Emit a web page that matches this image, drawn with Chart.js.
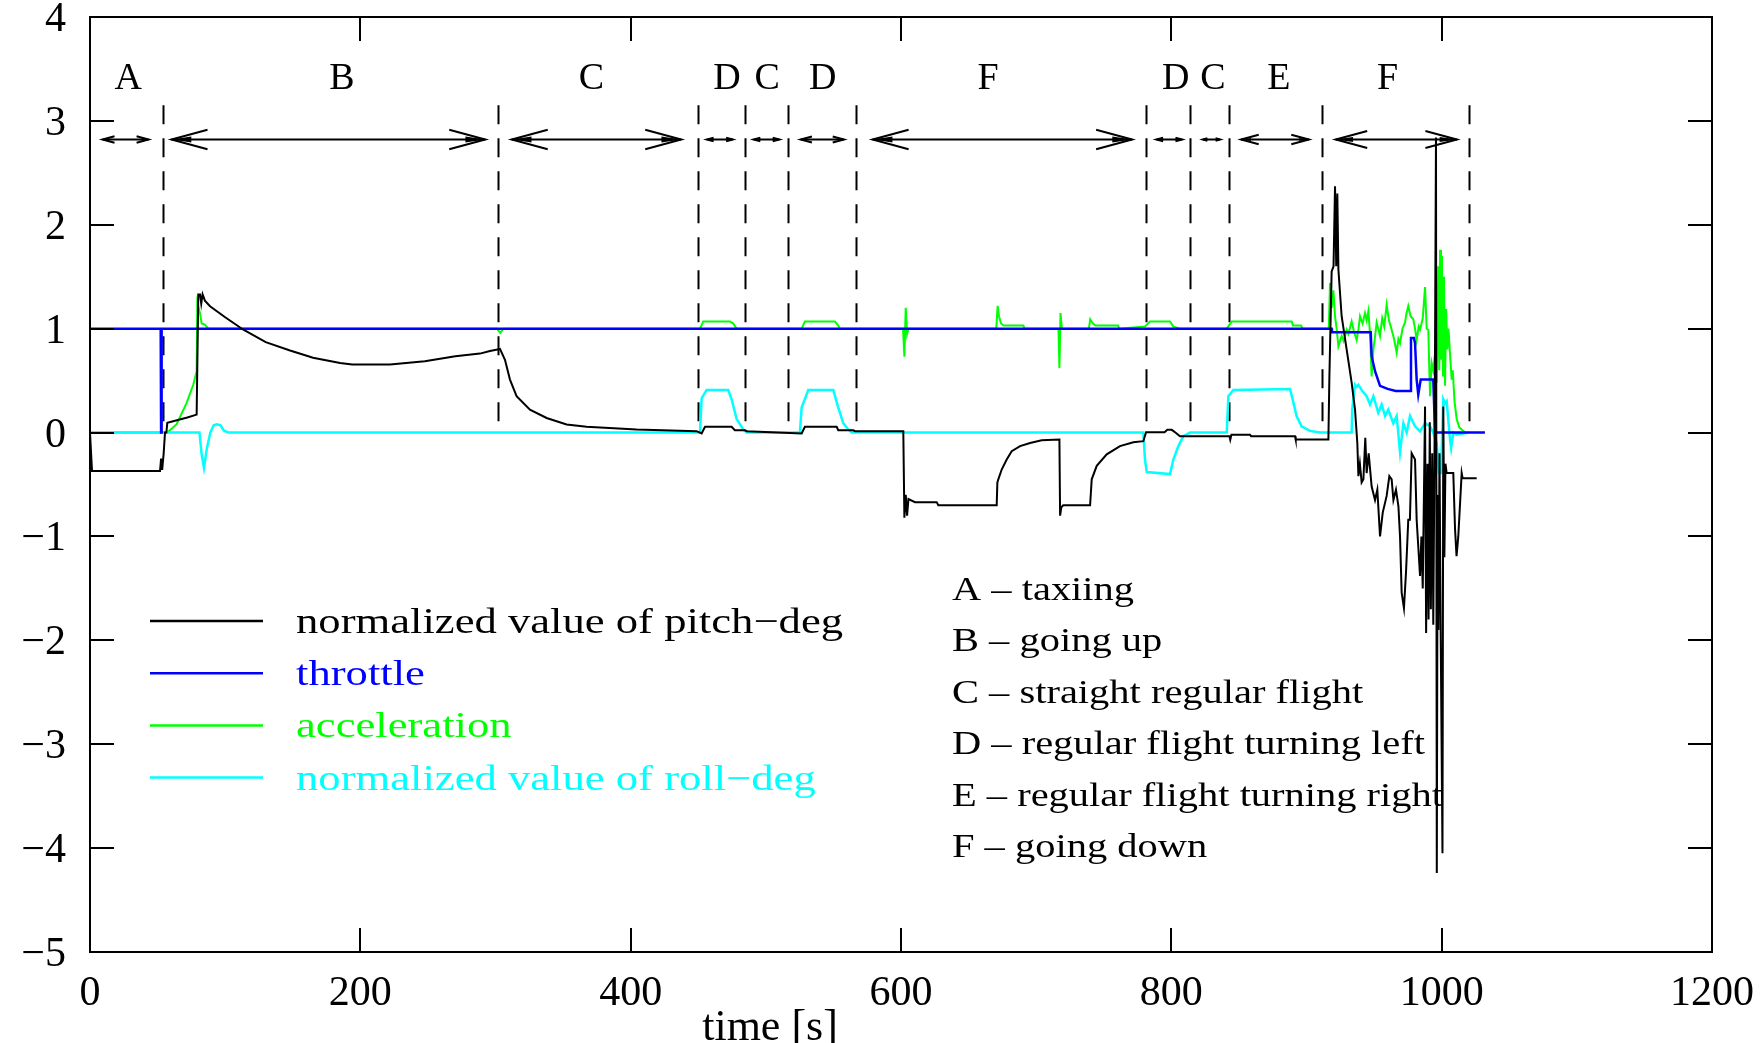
<!DOCTYPE html>
<html>
<head>
<meta charset="utf-8">
<script src="https://cdn.jsdelivr.net/npm/chart.js@4.4.1/dist/chart.umd.min.js"></script>
<style>
  html, body { margin: 0; padding: 0; background: #fff; }
  #wrap { width: 1760px; height: 1043px; }
</style>
</head>
<body>
<div id="wrap"><canvas id="chart" width="1760" height="1043"></canvas></div>
<script>
// ---- data (time in s, normalized values) ----
const pitchTime = [0, 1.5, 51.8, 52.6, 53.4, 54.5, 55.5, 56.5, 57.2, 65, 72, 78.9, 80.1, 81.4, 82.3, 83.3, 85, 88.8, 100, 113.5, 130, 148, 165, 185, 194, 222, 247.7, 270.3, 288.5, 295.9, 301.5, 303.3, 307, 310.7, 315.6, 325.5, 337.8, 352.6, 367.4, 404.4, 448.8, 452.5, 455, 474.7, 477.1, 484.5, 486, 526.5, 528.9, 552.4, 553.6, 564.7, 566, 601.7, 602.5, 603.5, 604.5, 605.5, 610.4, 626.4, 627.6, 670.8, 671.3, 672, 674.5, 678.2, 681.9, 688.1, 695.5, 704.1, 717.2, 717.7, 718.6, 720, 739.9, 741.1, 744.8, 752.2, 762, 771.9, 779.3, 781.3, 795, 797, 800.3, 803, 806.4, 843, 843.6, 844.5, 858.2, 859, 891.5, 892, 916.2, 916.9, 918.6, 920, 921.1, 922, 922.8, 923.6, 926, 929.7, 933.4, 935.9, 937.6, 938.4, 939.5, 940.8, 942.1, 943.5, 944.5, 946, 948.2, 950.7, 952.4, 954.4, 956.4, 959.3, 961.3, 963, 964.3, 966.2, 968, 969.2, 970.4, 972.1, 973.6, 975.3, 976.5, 977.8, 980.3, 981.5, 984, 985, 986, 987.7, 988.5, 989.5, 990.3, 991.2, 992, 993, 993.8, 994.8, 995.8, 996.4, 997, 997.6, 998.4, 999.2, 1000.6, 1001.2, 1002, 1002.8, 1003.7, 1008.6, 1009.9, 1011, 1012.3, 1014.8, 1015.5, 1025.9];
const pitchValue = [0, -0.37, -0.37, -0.25, -0.36, -0.2, 0, 0, 0.094, 0.12, 0.145, 0.173, 1.33, 1.33, 1.24, 1.33, 1.27, 1.216, 1.11, 0.99, 0.87, 0.79, 0.72, 0.67, 0.654, 0.654, 0.686, 0.735, 0.76, 0.785, 0.80, 0.805, 0.70, 0.51, 0.35, 0.22, 0.14, 0.077, 0.055, 0.029, 0.013, -0.008, 0.055, 0.055, 0.022, 0.022, 0.013, -0.008, 0.055, 0.055, 0.022, 0.022, 0.013, 0.013, -0.82, -0.6, -0.8, -0.64, -0.67, -0.67, -0.70, -0.70, -0.48, -0.45, -0.356, -0.26, -0.18, -0.13, -0.10, -0.074, -0.067, -0.80, -0.72, -0.70, -0.70, -0.45, -0.32, -0.21, -0.13, -0.093, -0.083, 0.003, 0.003, 0.026, 0.026, 0.0, -0.035, -0.035, -0.07, -0.02, -0.02, -0.035, -0.035, -0.067, -0.067, 0.51, 1.55, 1.6, 2.37, 1.6, 2.3, 1.57, 1.12, 0.80, 0.48, 0.22, -0.10, -0.42, -0.30, -0.48, -0.45, -0.05, -0.39, -0.2, -0.52, -0.65, -0.55, -1.0, -0.77, -0.61, -0.42, -0.45, -0.65, -0.55, -0.71, -1.0, -1.54, -1.69, -1.35, -0.84, -0.84, -0.2, -0.26, -0.84, -1.38, -1.0, -1.5, 0.25, -1.93, -0.3, -1.8, 0.1, -1.7, -0.2, -1.85, 0.0, 2.84, -4.24, -0.6, -1.9, -0.2, -1.8, -4.05, 0.25, -1.2, -0.3, -0.39, -0.39, -0.93, -1.19, -1.0, -0.39, -0.44, -0.44];

const throttleTime = [0, 52.3, 52.6, 53.0, 918.6, 918.8, 947.5, 948.2, 950.7, 954.4, 960, 966, 976.6, 977.3, 979.5, 980.3, 981.5, 982.7, 984.5, 993.8, 995.1, 1032];
const throttleValue = [1, 1, 0, 1, 1, 0.965, 0.965, 0.735, 0.59, 0.45, 0.42, 0.40, 0.40, 0.91, 0.91, 0.86, 0.51, 0.365, 0.51, 0.51, 0, 0];

const accelTime = [0, 57.2, 64.1, 71.5, 76.4, 78.9, 79.4, 81.4, 82.6, 85, 87.5, 301, 303.5, 306, 451.3, 453.7, 473.5, 475.9, 478.4, 526.5, 528.9, 551.1, 553.6, 554.8, 601.5, 602.5, 603.5, 604.5, 605.5, 670.5, 671.5, 672.5, 674, 676, 690.5, 691.5, 716.5, 717.2, 718, 719, 739, 740, 742, 744, 760.6, 761.5, 780.5, 784.2, 799, 801.5, 806.4, 841, 844.7, 889, 890, 896, 897, 916.5, 917.4, 918.6, 919.9, 921.1, 922.3, 923.6, 926, 927.5, 929.7, 931, 933.4, 935, 937.1, 938.5, 939.6, 941.5, 943.3, 944.5, 945.8, 947, 948.2, 949.5, 950.5, 951.9, 953.1, 954.4, 956, 957.5, 959.3, 961, 963, 964.8, 966.7, 968, 969.2, 971, 972.9, 974, 975.3, 977, 979, 980.3, 981.5, 983, 984, 986, 987.7, 988.9, 990.1, 991.4, 992.6, 993.8, 995, 996.3, 997.5, 998.2, 998.8, 999.5, 1000.2, 1001, 1001.7, 1002.5, 1003.3, 1004.2, 1005, 1006.2, 1007.4, 1008.2, 1009.5, 1011.1, 1013, 1014.8, 1017.3];
const accelValue = [0, 0, 0.08, 0.285, 0.46, 0.59, 1.25, 1.15, 1.05, 1.04, 1.0, 1.0, 0.96, 1.0, 1.0, 1.07, 1.07, 1.05, 1.0, 1.0, 1.07, 1.07, 1.03, 1.0, 1.0, 0.73, 1.2, 0.95, 1.0, 1.0, 1.22, 1.12, 1.05, 1.03, 1.03, 1.0, 1.0, 0.62, 1.15, 1.0, 1.0, 1.09, 1.05, 1.03, 1.03, 1.0, 1.02, 1.07, 1.07, 1.02, 1.0, 1.0, 1.07, 1.07, 1.03, 1.03, 1.0, 1.0, 1.44, 1.2, 1.37, 1.12, 1.0, 0.83, 0.93, 0.88, 0.99, 0.95, 1.07, 0.98, 0.89, 1.0, 1.12, 1.05, 1.15, 1.08, 1.17, 0.95, 0.54, 0.80, 0.9, 1.06, 1.0, 0.93, 1.1, 1.02, 1.23, 1.08, 0.99, 0.9, 0.77, 0.9, 0.86, 1.0, 1.06, 1.15, 1.22, 1.12, 1.09, 1.0, 0.89, 1.02, 0.99, 1.1, 1.4, 1.0, 0.99, 0.35, 0.67, 0.6, 0.75, 0.48, 1.6, 0.6, 1.76, 0.7, 1.7, 0.55, 1.5, 0.45, 1.19, 0.8, 1.0, 0.75, 0.51, 0.6, 0.3, 0.13, 0.05, 0.03, 0.0];

const rollTime = [0, 81, 82.5, 84.3, 86.5, 89, 91.5, 94, 96.5, 99, 102.3, 451.3, 452.5, 456.2, 472.2, 474.7, 478.4, 483.3, 485.8, 525.2, 526.5, 531.4, 549.9, 553.6, 557.3, 561, 563.5, 779.3, 780.5, 781.8, 799, 801.5, 805.2, 808.9, 813.8, 841, 842.2, 845.9, 887.8, 890.3, 892.7, 896.4, 902.6, 910, 933.4, 933.8, 935.9, 937.1, 938.4, 940.8, 942.6, 944.5, 947, 949.5, 953.1, 955.6, 958.1, 960.5, 964.2, 966.7, 969.2, 971.7, 974.1, 976.6, 980.3, 984, 987.7, 991.4, 993.8, 996.3, 998, 999.5, 1001.2, 1002.5, 1003.7, 1006.2, 1007, 1008.6, 1011, 1020];
const rollValue = [0, 0, -0.2, -0.34, -0.15, 0, 0.07, 0.08, 0.07, 0.02, 0, 0, 0.33, 0.41, 0.41, 0.32, 0.13, 0.03, 0, 0, 0.24, 0.41, 0.41, 0.24, 0.09, 0.03, 0, 0, -0.26, -0.38, -0.40, -0.26, -0.13, -0.035, 0, 0, 0.35, 0.41, 0.42, 0.29, 0.157, 0.06, 0.016, 0, 0, 0.22, 0.46, 0.44, 0.46, 0.41, 0.38, 0.35, 0.27, 0.35, 0.19, 0.27, 0.16, 0.22, 0.09, 0.16, -0.19, 0.09, 0.0, 0.16, 0.06, 0.01, 0.09, 0.06, 0.0, -0.1, -0.39, -0.39, 0.32, 0.28, 0.3, -0.07, -0.15, 0.0, -0.02, 0];

// flight phases
const phaseBounds = [54, 301.5, 450, 484.3, 516.6, 566.5, 781.4, 813.6, 842.5, 911.3, 1020];
const arrowFrom = [9.3, 60.3, 312, 456.4, 491, 525.8, 579, 789, 823.4, 851.6, 921.6];
const arrowTo = [43.3, 292.4, 437.4, 475.6, 510, 557.8, 771, 808, 836, 901.8, 1011.3];
const phaseLetters = ['A', 'B', 'C', 'D', 'C', 'D', 'F', 'D', 'C', 'E', 'F'];
const phaseLabelTime = [28.3, 186.3, 371, 471.3, 501, 542, 664.5, 803.3, 830.7, 879.6, 960];
const phaseNotes = ['A \u2013 taxiing', 'B \u2013 going up', 'C \u2013 straight regular flight', 'D \u2013 regular flight turning left', 'E \u2013 regular flight turning right', 'F \u2013 going down'];

const seriesLabels = ['normalized value of pitch\u2212deg', 'throttle', 'acceleration', 'normalized value of roll\u2212deg'];
const seriesColors = ['#000000', '#0000ff', '#00ff00', '#00ffff'];

const xTicks = [0, 200, 400, 600, 800, 1000, 1200];
const yTicks = [-5, -4, -3, -2, -1, 0, 1, 2, 3, 4];

// ---- drawing ----
const serif = '"Liberation Serif", "Times New Roman", serif';
const DASH_TOP = 3.15;
const ARROW_LEVEL = 2.83;
const LETTER_LEVEL = 3.31;

function toPoints(ts, vs) {
    return ts.map((t, i) => ({ x: t, y: vs[i] }));
}

function drawText(ctx, text, x, y, size, sx, color, align) {
    ctx.save();
    ctx.font = size + 'px ' + serif;
    ctx.fillStyle = color;
    ctx.textBaseline = 'alphabetic';
    ctx.textAlign = align || 'left';
    ctx.translate(x, y);
    ctx.scale(sx, 1);
    ctx.fillText(text, 0, 0);
    ctx.restore();
}

function arrowHead(ctx, x, y, dir, len) {
    const w = len * 0.27;
    ctx.beginPath();
    ctx.moveTo(x - dir * len, y - w);
    ctx.lineTo(x, y);
    ctx.lineTo(x - dir * len, y + w);
    ctx.stroke();
    ctx.beginPath();
    ctx.moveTo(x, y);
    ctx.lineTo(x - dir * len * 0.55, y - w * 0.3);
    ctx.lineTo(x - dir * len * 0.55, y + w * 0.3);
    ctx.closePath();
    ctx.fill();
}

// keep the plot frame exactly where layout.padding puts it
function noScalePadding(s) {
    s.paddingLeft = 0;
    s.paddingRight = 0;
    s.paddingTop = 0;
    s.paddingBottom = 0;
}

const whiteBg = {
    id: 'whiteBg',
    beforeDraw(chart) {
        const ctx = chart.ctx;
        ctx.save();
        ctx.fillStyle = '#fff';
        ctx.fillRect(0, 0, chart.width, chart.height);
        ctx.restore();
    }
};

const annotations = {
    id: 'annotations',
    beforeDatasetsDraw(chart) {
        const ctx = chart.ctx;
        const xs = chart.scales.x, ys = chart.scales.y;
        ctx.save();
        ctx.strokeStyle = '#000';
        ctx.fillStyle = '#000';
        ctx.lineWidth = 2;

        // dashed phase boundaries
        ctx.setLineDash([19, 14]);
        phaseBounds.forEach(t => {
            const px = Math.round(xs.getPixelForValue(t)) + 0.5;
            ctx.beginPath();
            ctx.moveTo(px, ys.getPixelForValue(DASH_TOP));
            ctx.lineTo(px, ys.getPixelForValue(0));
            ctx.stroke();
        });
        ctx.setLineDash([]);

        // double-headed arrows
        const ay = Math.round(ys.getPixelForValue(ARROW_LEVEL)) + 0.5;
        arrowFrom.forEach((t0, i) => {
            const x0 = xs.getPixelForValue(t0), x1 = xs.getPixelForValue(arrowTo[i]);
            const len = Math.min(36, (x1 - x0) * 0.26);
            ctx.lineWidth = 2;
            ctx.beginPath();
            ctx.moveTo(x0, ay);
            ctx.lineTo(x1, ay);
            ctx.stroke();
            arrowHead(ctx, x0, ay, -1, len);
            arrowHead(ctx, x1, ay, 1, len);
        });

        // phase letters
        const ly = ys.getPixelForValue(LETTER_LEVEL);
        phaseLetters.forEach((s, i) => {
            drawText(ctx, s, xs.getPixelForValue(phaseLabelTime[i]), ly, 38, 1, '#000', 'center');
        });

        // phase descriptions
        phaseNotes.forEach((s, i) => {
            drawText(ctx, s, 952, 600 + i * 51.4, 34, 1.19, '#000', 'left');
        });

        // legend
        seriesLabels.forEach((s, i) => {
            const y = 621 + i * 52.2;
            ctx.strokeStyle = seriesColors[i];
            ctx.lineWidth = 2.5;
            ctx.beginPath();
            ctx.moveTo(150, y);
            ctx.lineTo(263, y);
            ctx.stroke();
            drawText(ctx, s, 296, y + 12, 36, 1.24, seriesColors[i], 'left');
        });

        // axis title
        drawText(ctx, 'time [s]', 770, 1040, 44, 1, '#000', 'center');
        ctx.restore();
    },
    afterDatasetsDraw(chart) {
        const ctx = chart.ctx;
        const a = chart.chartArea;
        const xs = chart.scales.x, ys = chart.scales.y;
        const tl = 24;
        ctx.save();
        ctx.strokeStyle = '#000';
        ctx.lineWidth = 2;
        ctx.beginPath();
        xTicks.forEach(t => {
            const px = Math.round(xs.getPixelForValue(t));
            ctx.moveTo(px, a.bottom);
            ctx.lineTo(px, a.bottom - tl);
            ctx.moveTo(px, a.top);
            ctx.lineTo(px, a.top + tl);
        });
        yTicks.forEach(v => {
            const py = Math.round(ys.getPixelForValue(v));
            ctx.moveTo(a.left, py);
            ctx.lineTo(a.left + tl, py);
            ctx.moveTo(a.right, py);
            ctx.lineTo(a.right - tl, py);
        });
        ctx.stroke();
        ctx.strokeRect(a.left, a.top, a.right - a.left, a.bottom - a.top);
        ctx.restore();
    }
};

const datasets = [
    { label: seriesLabels[0], data: toPoints(pitchTime, pitchValue), borderColor: seriesColors[0], borderWidth: 2, order: 0 },
    { label: seriesLabels[1], data: toPoints(throttleTime, throttleValue), borderColor: seriesColors[1], borderWidth: 2.5, order: 1 },
    { label: seriesLabels[2], data: toPoints(accelTime, accelValue), borderColor: seriesColors[2], borderWidth: 2, order: 3 },
    { label: seriesLabels[3], data: toPoints(rollTime, rollValue), borderColor: seriesColors[3], borderWidth: 2.5, order: 2 }
].map(d => Object.assign(d, { pointRadius: 0, tension: 0, fill: false }));

const tickFont = { family: serif, size: 42 };
const minusLabel = v => v < 0 ? '\u2212' + (-v) : String(v);

new Chart(document.getElementById('chart'), {
    type: 'line',
    data: { datasets: datasets },
    options: {
        responsive: false,
        animation: false,
        events: [],
        layout: { padding: { left: 0, right: 48, top: 17, bottom: 0 } },
        plugins: { legend: { display: false }, tooltip: { enabled: false } },
        scales: {
            x: {
                type: 'linear', min: 0, max: 1200,
                afterFit: s => { s.height = 91; noScalePadding(s); },
                afterBuildTicks: s => { s.ticks = xTicks.map(v => ({ value: v })); },
                ticks: { font: tickFont, color: '#000', padding: 17, maxRotation: 0, autoSkip: false, callback: minusLabel },
                grid: { display: false, drawTicks: false },
                border: { display: false }
            },
            y: {
                type: 'linear', min: -5, max: 4,
                afterFit: s => { s.width = 90; noScalePadding(s); },
                afterBuildTicks: s => { s.ticks = yTicks.map(v => ({ value: v })); },
                ticks: { font: tickFont, color: '#000', padding: 24, labelOffset: 3, autoSkip: false, callback: minusLabel },
                grid: { display: false, drawTicks: false },
                border: { display: false }
            }
        }
    },
    plugins: [whiteBg, annotations]
});
</script>
</body>
</html>
